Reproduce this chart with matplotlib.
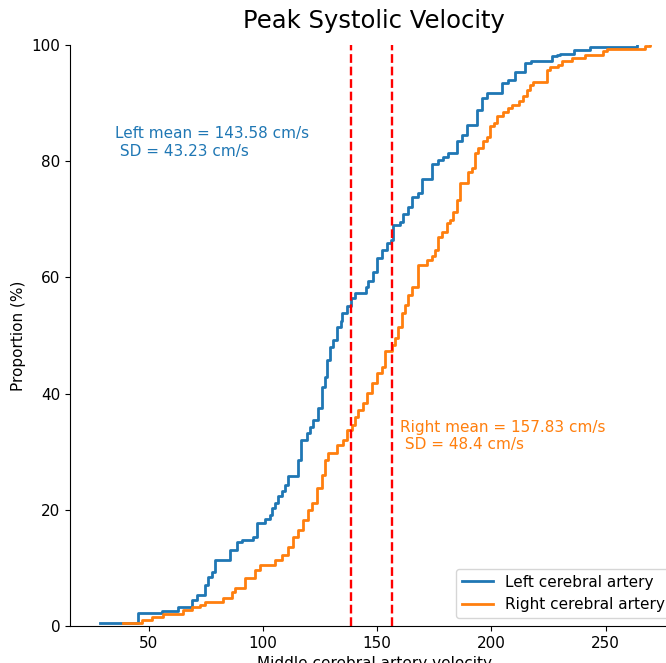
import matplotlib
matplotlib.use('Agg')
import matplotlib.pyplot as plt

plt.rcParams['font.size'] = 11

# ECDF breakpoints (velocity in cm/s, cumulative %)
left_vel = [28.7, 45.4, 55.7, 63.0, 68.8, 71.0, 74.6, 76.1, 77.6, 79.0, 85.5, 88.5,
            90.7, 95.5, 97.3, 100.9, 103.1, 103.9, 105.3, 106.7, 108.2, 109.7, 111.1,
            115.3, 116.5, 119.2, 120.6, 122.1, 124.3, 125.7, 127.2, 127.9, 129.4, 130.8,
            132.3, 134.0, 134.5, 136.7, 138.6, 140.3, 145.0, 146.2, 148.0, 149.8, 152.0,
            154.2, 156.2, 157.1, 160.0, 161.5, 163.7, 165.1, 168.0, 169.5, 173.9, 176.8,
            179.0, 181.2, 184.9, 187.0, 189.2, 193.6, 195.8, 198.0, 204.5, 207.4, 210.4,
            214.8, 217.5, 226.4, 228.6, 230.0, 236.0, 243.2, 263.7]
left_pct = [0.5, 2.2, 2.6, 3.3, 4.5, 5.3, 7.1, 8.5, 9.3, 11.4, 13.1, 14.5,
            14.8, 15.4, 17.7, 18.5, 19.1, 20.3, 21.1, 22.3, 23.2, 24.3, 25.8,
            28.6, 32.0, 33.2, 34.3, 35.5, 37.5, 41.2, 42.9, 45.8, 48.1, 49.2,
            51.5, 52.5, 53.8, 55.0, 56.5, 57.4, 58.3, 59.3, 61.0, 63.4, 64.7,
            65.9, 66.5, 69.0, 69.6, 71.0, 72.2, 73.9, 74.5, 77.0, 79.6, 80.2,
            80.8, 81.4, 83.4, 84.5, 86.2, 88.8, 90.8, 91.8, 93.4, 94.0, 95.4,
            96.9, 97.2, 98.1, 98.3, 98.5, 99.1, 99.6, 100.0]

right_vel = [38.9, 46.9, 51.3, 56.4, 65.2, 68.8, 72.5, 74.6, 82.7, 86.3, 87.8, 92.2,
             96.5, 98.7, 105.3, 108.2, 111.1, 113.3, 115.5, 117.7, 119.9, 121.4, 123.6,
             125.7, 127.2, 128.6, 132.3, 135.2, 136.7, 138.9, 140.3, 141.8, 144.0, 145.5,
             147.6, 149.8, 152.0, 153.5, 156.4, 157.8, 159.3, 160.8, 162.2, 163.7, 165.1,
             168.0, 171.7, 173.9, 175.4, 176.8, 178.3, 180.5, 181.9, 183.4, 184.9, 186.3,
             189.9, 191.4, 192.9, 194.3, 196.5, 198.0, 199.6, 201.0, 202.4, 205.3, 207.4,
             209.2, 212.0, 214.0, 215.5, 217.0, 218.4, 224.3, 225.7, 229.3, 230.8, 235.2,
             241.0, 249.0, 250.5, 267.3, 269.5]
right_pct = [0.5, 1.0, 1.6, 2.1, 2.75, 3.3, 3.7, 4.2, 4.9, 5.9, 6.5, 8.2,
             9.6, 10.5, 11.4, 12.2, 13.6, 15.4, 16.5, 18.2, 20.0, 21.1, 23.8,
             26.0, 28.6, 29.7, 31.2, 32.0, 33.7, 34.6, 36.0, 37.2, 38.3, 40.1,
             41.8, 43.5, 44.6, 47.3, 48.4, 49.5, 51.5, 53.8, 55.3, 57.0, 58.4,
             62.1, 63.0, 63.6, 64.7, 67.0, 67.9, 69.3, 69.9, 71.3, 73.3, 76.2,
             78.2, 78.8, 81.4, 82.2, 83.4, 84.2, 86.0, 86.6, 87.7, 88.4, 89.1,
             89.7, 90.4, 91.3, 92.3, 93.1, 93.7, 95.7, 96.2, 96.6, 97.2, 97.8,
             98.3, 98.9, 99.3, 99.8, 100.0]

vlines = [138.6, 156.6]
left_label = 'Left mean = 143.58 cm/s\n SD = 43.23 cm/s'
right_label = 'Right mean = 157.83 cm/s\n SD = 48.4 cm/s'

fig = plt.figure(figsize=(6.66, 6.63), dpi=100)
ax = fig.add_axes([0.1051, 0.0558, 0.9138, 0.8763])

ax.plot(left_vel, left_pct, drawstyle='steps-post', color='#1f77b4', lw=2,
        label='Left cerebral artery')
ax.plot(right_vel, right_pct, drawstyle='steps-post', color='#ff7f0e', lw=2,
        label='Right cerebral artery')

for v in vlines:
    ax.axvline(v, color='red', linestyle='--', lw=1.7)

ax.text(35.2, 83.2, left_label, color='#1f77b4', fontsize=11, ha='left', va='center')
ax.text(160.0, 32.7, right_label, color='#ff7f0e', fontsize=11, ha='left', va='center')

ax.set_xlim(15.5, 282)
ax.set_ylim(0, 100)
ax.set_xticks([50, 100, 150, 200, 250])
ax.set_yticks([0, 20, 40, 60, 80, 100])
ax.spines['top'].set_visible(False)
ax.spines['right'].set_visible(False)

ax.set_title('Peak Systolic Velocity', fontsize=17.5, pad=12)
ax.set_ylabel('Proportion (%)')
ax.set_xlabel('Middle cerebral artery velocity')
ax.legend(loc='lower right', fontsize=11)

fig.savefig('out.png', dpi=100)
